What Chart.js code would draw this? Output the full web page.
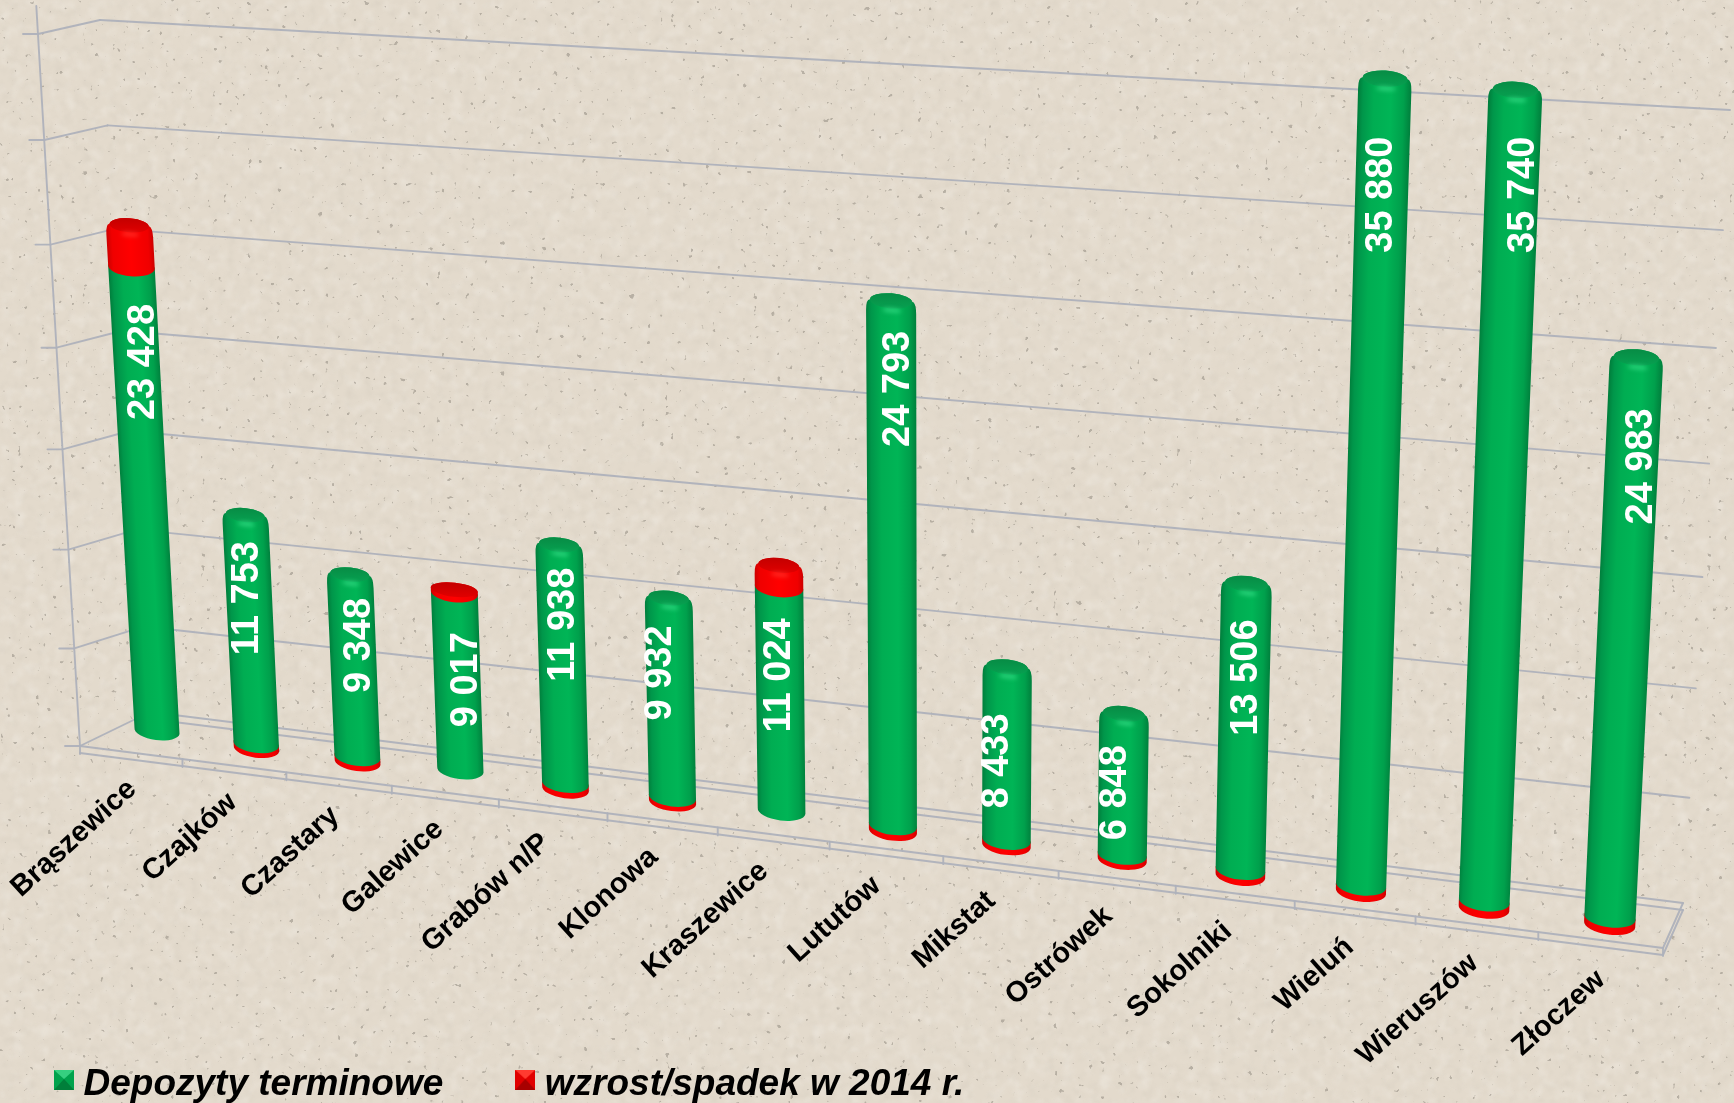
<!DOCTYPE html>
<html lang="pl"><head><meta charset="utf-8"><title>Depozyty terminowe</title>
<script src="https://cdn.jsdelivr.net/npm/chart.js@4"></script>
<style>
html,body{margin:0;padding:0;width:1734px;height:1103px;overflow:hidden;background-color:#e2d9cb}
#paper{position:absolute;left:0;top:0;width:1734px;height:1103px}
canvas{position:absolute;left:0;top:0;display:block}
</style></head><body>
<svg id="paper" xmlns="http://www.w3.org/2000/svg">
<filter id="n1" x="0" y="0" width="100%" height="100%"><feTurbulence type="fractalNoise" baseFrequency="0.11" numOctaves="3" seed="7"/><feColorMatrix values="0 0 0 0 .6  0 0 0 0 .55  0 0 0 0 .47  0 0 0 2.2 -1.05"/><feGaussianBlur stdDeviation="0.8"/></filter>
<filter id="n2" x="0" y="0" width="100%" height="100%"><feTurbulence type="fractalNoise" baseFrequency="0.17" numOctaves="2" seed="21"/><feColorMatrix values="0 0 0 0 .33  0 0 0 0 .3  0 0 0 0 .25  0 0 0 16 -11.8"/><feGaussianBlur stdDeviation="0.7"/></filter>
<filter id="n3" x="0" y="0" width="100%" height="100%"><feTurbulence type="fractalNoise" baseFrequency="0.08" numOctaves="3" seed="3"/><feColorMatrix values="0 0 0 0 .96  0 0 0 0 .94  0 0 0 0 .9  0 0 0 2 -.95"/><feGaussianBlur stdDeviation="0.8"/></filter>
<rect width="1734" height="1103" fill="#e3dacc"/>
<rect width="1734" height="1103" filter="url(#n1)" opacity=".3"/>
<rect width="1734" height="1103" filter="url(#n3)" opacity=".35"/>
<rect width="1734" height="1103" filter="url(#n2)" opacity=".6"/>
</svg>
<canvas id="c" width="1734" height="1103"></canvas>
<script>
const categories = ["Brąszewice","Czajków","Czastary","Galewice","Grabów n/P","Klonowa","Kraszewice","Lututów","Mikstat","Ostrówek","Sokolniki","Wieluń","Wieruszów","Złoczew"];
const depozyty = [23428,11753,9348,9017,11938,9932,11024,24793,8433,6848,13506,35880,35740,24983];
const zmiana = [2000,-250,-270,150,-280,-230,1050,-280,-260,-240,-280,-300,-340,-340];
const seriesNames = ["Depozyty terminowe","wzrost/spadek w 2014 r."];
const axisMin = -5000, axisMax = 40000, axisStep = 5000, gridTop = 35000;
// label placement on each bar: px below top of the green segment, px sideways
const labelGap = [95,83,71,87,80,75,88,88,94,79,94,116,105,109];
const labelShift = [7,-2,7,9,2,-10,-1,7,-9,-8,2,0,12,10];

function solve(A,b){const n=b.length;A=A.map((r,i)=>[...r,b[i]]);
  for(let i=0;i<n;i++){let p=i;for(let k=i+1;k<n;k++)if(Math.abs(A[k][i])>Math.abs(A[p][i]))p=k;[A[i],A[p]]=[A[p],A[i]];
    for(let k=0;k<n;k++)if(k!==i){const f=A[k][i]/A[i][i];for(let j=i;j<=n;j++)A[k][j]-=f*A[i][j];}}
  return A.map((r,i)=>r[n]/r[i]);}
function homography(pairs){const A=[],b=[];
  for(const [u,v,X,Y] of pairs){A.push([u,v,1,0,0,0,-u*X,-v*X]);b.push(X);A.push([0,0,0,u,v,1,-u*Y,-v*Y]);b.push(Y);}
  const h=solve(A,b);
  return (u,v)=>{const w=h[6]*u+h[7]*v+1;return {x:(h[0]*u+h[1]*v+h[2])/w,y:(h[3]*u+h[4]*v+h[5])/w,w};};}
const n0=0.5/14,n1=13.5/14;
const barBase=homography([[n0,0,157,731],[n1,0,1610,917],[n1,1,1648,116],[n0,1,118,22]]);
const barPlane=(u,v)=>barBase(u,v>0?Math.pow(v,1.015):v);
const w0=barBase(n0,0).w;
const wallPlane=homography([[0,1,100,20],[1,1,1730,110],[1,0,1683,905],[0,0,150,722]]);
const floorPlane=homography([[0,0,80,746],[1,0,1663,948],[1,1,1683,903],[0,1,150,712]]);
const GRID="rgba(174,177,186,0.95)";
const FLOOR_T=7;
const FRONT_TOP={x:38,y:34},FRONT_BOT={x:80,y:746};
const lerp=(a,b,f)=>({x:a.x+(b.x-a.x)*f,y:a.y+(b.y-a.y)*f});
const frontFrac=f=>f/(f+1.05*(1-f));

function segLine(ctx,a,b,dy=0){ctx.beginPath();ctx.moveTo(a.x,a.y+dy);ctx.lineTo(b.x,b.y+dy);ctx.stroke();}

const PAL={green:{stops:[[0,"#007d3b"],[.1,"#00964a"],[.3,"#00ad52"],[.62,"#00b556"],[.86,"#00a04c"],[1,"#007f3c"]],lid:"#07a050",lidDark:"#078c45",hi:"rgba(60,225,140,.7)"},
           red:{stops:[[0,"#cc0000"],[.12,"#f00000"],[.5,"#ff0000"],[.88,"#f00000"],[1,"#cc0000"]],lid:"#e00000",lidDark:"#c40000",hi:"rgba(255,60,50,.7)"}};

function drawSeg(ctx,nx,v0,v1,half,pal,capped){
  const B=barPlane(nx,v0),T=barPlane(nx,v1);
  const d0=barPlane(nx+.01,v0);const tilt=Math.atan2(d0.y-B.y,d0.x-B.x);
  const d1=barPlane(nx+.01,v1);const tiltT=Math.atan2(d1.y-T.y,d1.x-T.x);
  const Rb=half*w0/B.w,Rt=half*w0/T.w;
  const bb=Rb*.4,bt=Rt*.3;
  const cos=Math.cos(tiltT),sin=Math.sin(tiltT);
  const len=Math.hypot(T.x-B.x,T.y-B.y);
  const bevel=capped&&len>18?Math.min(11,len*.5):0;
  const lidR=bevel?.84:1;
  ctx.save();
  ctx.beginPath();
  ctx.ellipse(B.x,B.y,Rb,bb,tilt,Math.PI,0,true);
  if(bevel){
    const k=bevel/len, sx=T.x+(B.x-T.x)*k, sy=T.y+(B.y-T.y)*k;
    const Rs=Rt+(Rb-Rt)*k;
    ctx.lineTo(sx+Rs*cos,sy+Rs*sin);
    ctx.quadraticCurveTo(T.x+Rt*cos,T.y+Rt*sin,T.x+Rt*lidR*cos,T.y+Rt*lidR*sin-1);
    ctx.ellipse(T.x,T.y,Rt*lidR,bt,tiltT,0,Math.PI,true);
    ctx.quadraticCurveTo(T.x-Rt*cos,T.y-Rt*sin,sx-Rs*cos,sy-Rs*sin);
  }else{
    ctx.lineTo(T.x+Rt*cos,T.y+Rt*sin);
    ctx.ellipse(T.x,T.y,Rt,bt,tiltT,0,Math.PI,true);
  }
  ctx.closePath();
  ctx.save();ctx.clip();
  const shear=(B.x-T.x)/(B.y-T.y);
  const Rm=Math.max(Rb,Rt);
  ctx.translate(T.x,T.y);ctx.transform(1,0,shear,1,0,0);
  const g=ctx.createLinearGradient(-Rm,0,Rm,0);
  pal.stops.forEach(s=>g.addColorStop(s[0],s[1]));
  ctx.fillStyle=g;ctx.fillRect(-Rm*2,-40,Rm*4,len+80);
  ctx.restore();
  if(capped){
    const rx=Rt*lidR;
    const lg=ctx.createLinearGradient(T.x,T.y-bt,T.x,T.y+bt);
    lg.addColorStop(0,pal.lidDark);lg.addColorStop(1,pal.lid);
    ctx.fillStyle=lg;ctx.beginPath();ctx.ellipse(T.x,T.y,rx,bt,tiltT,0,Math.PI*2);ctx.fill();
    if(bevel){
      ctx.filter="blur(2px)";ctx.fillStyle=pal.hi;
      ctx.beginPath();ctx.ellipse(T.x+1,T.y+bt+2,Rt*.38,2.2,tiltT,0,Math.PI*2);ctx.fill();
      ctx.filter="none";
    }
  }
  ctx.restore();
}

const scene={id:"scene",
  afterLayout(chart){
    const L=chart.legend,p=L.options.labels.padding;
    L.left=63-p;L.top=1084.5-18-p;
  },
  beforeDatasetsDraw(chart){
    const ctx=chart.ctx,xs=chart.scales.x,ys=chart.scales.y,a=chart.chartArea;
    const y0=ys.getPixelForValue(0),yT=ys.getPixelForValue(gridTop);
    const fx=px=>(px-a.left)/(a.right-a.left), fy=py=>(y0-py)/(y0-yT);
    ctx.save();
    ctx.strokeStyle=GRID;ctx.lineWidth=1.9;ctx.lineCap="round";
    segLine(ctx,{x:FRONT_TOP.x-1.7,y:FRONT_TOP.y-28},FRONT_BOT);
    ys.ticks.filter(t=>t.value>=0&&t.value<=gridTop).forEach(t=>{
      const f=t.value/gridTop;
      const A=lerp(FRONT_BOT,FRONT_TOP,frontFrac(f)),C=wallPlane(0,f),D=wallPlane(1,f);
      segLine(ctx,{x:A.x-15,y:A.y},A);
      if(t.value>0){segLine(ctx,A,C);segLine(ctx,C,D);}
    });
    const fl=floorPlane(0,0),fr=floorPlane(1,0),br=floorPlane(1,1),bl=floorPlane(0,1);
    segLine(ctx,fl,bl);
    [0,FLOOR_T].forEach(d=>{segLine(ctx,fl,fr,d);segLine(ctx,bl,br,d);segLine(ctx,fr,br,d);});
    for(let k=0;k<=xs.ticks.length;k++){const P=floorPlane(k/xs.ticks.length,0);ctx.beginPath();ctx.moveTo(P.x,P.y);ctx.lineTo(P.x,P.y+FLOOR_T+1);ctx.stroke();}
    ctx.restore();

    const m0=chart.getDatasetMeta(0).data,m1=chart.getDatasetMeta(1).data;
    categories.forEach((c,i)=>{
      const g=m0[i],r=m1[i],nx=fx(g.x),half=g.width/2;
      const gv0=fy(g.base),gv1=fy(g.y),rv0=fy(r.base),rv1=fy(r.y);
      if(rv1<rv0){
        drawSeg(ctx,nx,rv1,rv0,half,PAL.red,false);
        drawSeg(ctx,nx,gv0,gv1,half,PAL.green,true);
      }else{
        drawSeg(ctx,nx,gv0,gv1,half,PAL.green,false);
        drawSeg(ctx,nx,rv0,rv1,half,PAL.red,true);
      }
    });
    categories.forEach((c,i)=>{
      const g=m0[i],nx=fx(g.x);
      const top=barPlane(nx,fy(g.y)),bot=barPlane(nx,fy(g.base));
      const yc=top.y+labelGap[i];
      const xc=top.x+(bot.x-top.x)*(yc-top.y)/(bot.y-top.y)+labelShift[i];
      const txt=String(chart.data.datasets[0].data[i]).replace(/\B(?=(\d{3})+$)/g," ");
      ctx.save();ctx.translate(xc-1,yc);ctx.rotate(-Math.PI/2);
      ctx.font='bold 38px "Liberation Sans"';ctx.fillStyle="#fff";ctx.textAlign="center";ctx.textBaseline="middle";
      ctx.fillText(txt,0,1);ctx.restore();

      ctx.save();
      const ax=bot.x-20+17*nx, ay=bot.y+60+5*nx;
      ctx.translate(ax,ay);ctx.rotate(-(42.5-1*nx)*Math.PI/180);
      ctx.font='bold 29px "Liberation Sans"';ctx.fillStyle="#000";ctx.textAlign="right";ctx.textBaseline="alphabetic";
      ctx.fillText(xs.getLabelForValue(i),0,0);ctx.restore();
    });
    return false;
  }
};

function marker(c1,c2,c3){const k=document.createElement("canvas");k.width=20;k.height=30;const q=k.getContext("2d");
  q.fillStyle=c2;q.fillRect(0,0,20,20);
  const tri=(p,col)=>{q.fillStyle=col;q.beginPath();q.moveTo(...p[0]);q.lineTo(...p[1]);q.lineTo(...p[2]);q.closePath();q.fill();};
  tri([[0,0],[20,0],[10,9]],c1);tri([[0,20],[20,20],[10,9]],c3);return k;}
const markers=[marker("#35d07f","#00a24c","#007f3a"),marker("#ff3a30","#e00000","#a80000")];

new Chart(document.getElementById("c"),{
  type:"bar",
  data:{labels:categories,datasets:[
    {label:seriesNames[0],data:depozyty,backgroundColor:"#00b050",stack:"s"},
    {label:seriesNames[1],data:zmiana,backgroundColor:"#ff0000",stack:"s"}]},
  plugins:[scene],
  options:{responsive:false,animation:false,devicePixelRatio:1,
    categoryPercentage:.8,barPercentage:.46,
    layout:{padding:0},
    plugins:{tooltip:{enabled:false},title:{display:false},
      legend:{position:"bottom",align:"start",onClick:null,
        labels:{padding:81,boxWidth:2,boxHeight:20,usePointStyle:true,color:"#000",
          font:{family:'"Liberation Sans"',size:37,style:"italic",weight:"bold"},
          generateLabels:ch=>ch.data.datasets.map((d,i)=>({text:d.label,datasetIndex:i,pointStyle:markers[i],fillStyle:d.backgroundColor,strokeStyle:"transparent",lineWidth:0}))}}},
    scales:{
      x:{stacked:true,grid:{display:false},border:{display:false},ticks:{display:false,autoSkip:false}},
      y:{stacked:true,min:axisMin,max:axisMax,grid:{display:false},border:{display:false},ticks:{display:false,stepSize:axisStep}}
    }}
});
</script></body></html>
